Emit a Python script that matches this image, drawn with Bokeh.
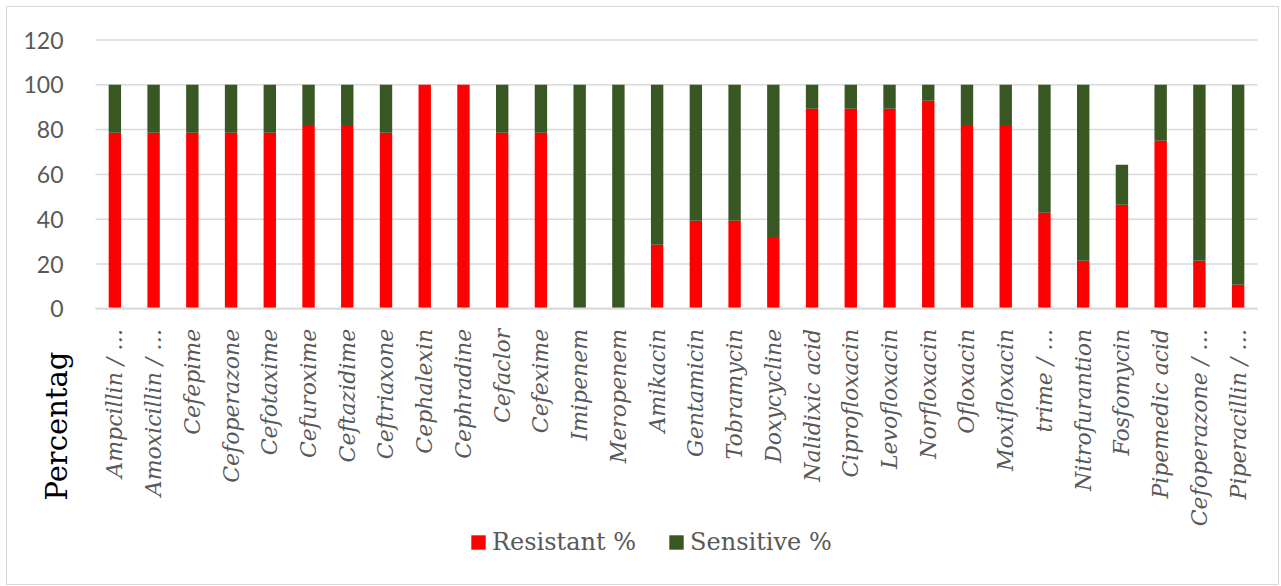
import math
from bokeh.plotting import figure
from bokeh.models import (ColumnDataSource, Legend, LegendItem, Label,
                          Range1d, FixedTicker)
from bokeh.embed import file_html
from bokeh.resources import INLINE

antibiotics = [
    "Ampcillin / …", "Amoxicillin / …", "Cefepime", "Cefoperazone", "Cefotaxime",
    "Cefuroxime", "Ceftazidime", "Ceftriaxone", "Cephalexin", "Cephradine",
    "Cefaclor", "Cefexime", "Imipenem", "Meropenem", "Amikacin",
    "Gentamicin", "Tobramycin", "Doxycycline", "Nalidixic acid", "Ciprofloxacin",
    "Levofloxacin", "Norfloxacin", "Ofloxacin", "Moxifloxacin", "trime / …",
    "Nitrofurantion", "Fosfomycin", "Pipemedic acid", "Cefoperazone / …", "Piperacillin / …",
]
resistant = [
    78.6, 78.6, 78.6, 78.6, 78.6,
    82.1, 82.1, 78.6, 100.0, 100.0,
    78.6, 78.6, 0.0, 0.0, 28.6,
    39.3, 39.3, 32.1, 89.3, 89.3,
    89.3, 92.9, 82.1, 82.1, 42.9,
    21.4, 46.4, 75.0, 21.4, 10.7,
]
sensitive = [
    21.4, 21.4, 21.4, 21.4, 21.4,
    17.9, 17.9, 21.4, 0.0, 0.0,
    21.4, 21.4, 100.0, 100.0, 71.4,
    60.7, 60.7, 67.9, 10.7, 10.7,
    10.7, 7.1, 17.9, 17.9, 57.1,
    78.6, 17.9, 25.0, 78.6, 89.3,
]
series_names = ["Resistant %", "Sensitive %"]
y_ticks = [0, 20, 40, 60, 80, 100, 120]
y_title = "Percentag"

RED = "#FF0000"
GREEN = "#385723"
GRAY_TEXT = "#595959"
GRID = "#d9d9d9"

# ---- layout in pixels (the frame fills the whole canvas) ----
CANVAS_W, CANVAS_H = 1271, 577
PX_PER_CAT = 38.733          # width of one category slot
X0_PX = 107.37               # canvas x of the first category centre
PX_PER_UNIT = 2.24           # pixels per percent
Y0_PX = 301.3                # canvas y (from top) of the 0 line

n = len(antibiotics)
positions = list(range(n))
x_range = Range1d(-X0_PX / PX_PER_CAT, (CANVAS_W - X0_PX) / PX_PER_CAT)
y_range = Range1d(-(CANVAS_H - Y0_PX) / PX_PER_UNIT, Y0_PX / PX_PER_UNIT)

src = ColumnDataSource(dict(pos=positions, drug=antibiotics,
                            resistant=resistant, sensitive=sensitive))

p = figure(
    x_range=x_range, y_range=y_range,
    width=CANVAS_W, height=CANVAS_H, output_backend="svg", toolbar_location=None,
    min_border=0, min_border_left=0, min_border_right=0,
    min_border_top=0, min_border_bottom=0,
    margin=(7, 0, 0, 7),
)
p.styles = {"box-shadow": "0 0 0 1px #d9d9d9"}
p.outline_line_color = None
p.background_fill_color = "white"
p.border_fill_color = "white"
p.xgrid.visible = False
p.ygrid.visible = False

# horizontal gridlines spanning the category area only
grid_src = ColumnDataSource(dict(y=y_ticks,
                                 x0=[-0.5] * len(y_ticks),
                                 x1=[n - 0.5] * len(y_ticks)))
p.segment(x0="x0", x1="x1", y0="y", y1="y", source=grid_src,
          line_color=GRID, line_width=1.5)

rs = p.vbar_stack(["resistant", "sensitive"], x="pos", width=0.32,
                  color=[RED, GREEN], line_color=None, source=src)

# y axis at the left edge of the first category
p.yaxis.fixed_location = -0.5
p.yaxis.ticker = FixedTicker(ticks=y_ticks)
p.yaxis.axis_line_color = None
p.yaxis.major_tick_line_color = None
p.yaxis.minor_tick_line_color = None
p.yaxis.major_label_standoff = 26
p.yaxis.major_label_text_font = "Lato"
p.yaxis.major_label_text_font_size = "23px"
p.yaxis.major_label_text_color = GRAY_TEXT

# category axis along y = 0
p.xaxis.fixed_location = 0
p.xaxis.bounds = (-0.5, n - 0.5)
p.xaxis.ticker = FixedTicker(ticks=positions)
p.xaxis.major_label_overrides = {i: name for i, name in zip(positions, antibiotics)}
p.xaxis.axis_line_color = GRID
p.xaxis.axis_line_width = 2
p.xaxis.major_tick_line_color = None
p.xaxis.minor_tick_line_color = None
p.xaxis.major_label_orientation = math.pi / 2
p.xaxis.major_label_standoff = 14
p.xaxis.major_label_text_font = "DejaVu Serif"
p.xaxis.major_label_text_font_style = "italic"
p.xaxis.major_label_text_font_size = "22px"
p.xaxis.major_label_text_color = GRAY_TEXT

# vertical axis title, low at the left
title = Label(x=49, y=84, x_units="screen", y_units="screen", text=y_title,
              angle=math.pi / 2, text_align="left", text_baseline="alphabetic",
              text_font="DejaVu Serif", text_font_size="29px", text_color="#000000")
p.add_layout(title)

legend = Legend(
    items=[LegendItem(label=series_names[0], renderers=[rs[0]]),
           LegendItem(label=series_names[1], renderers=[rs[1]])],
    orientation="horizontal", location=(462, 28),
    padding=0, margin=0, spacing=31, label_standoff=5,
    glyph_width=18, glyph_height=18,
    label_text_font="DejaVu Serif", label_text_font_size="24px",
    label_text_color=GRAY_TEXT, border_line_color=None, background_fill_alpha=0,
)
p.add_layout(legend)

open("out.html", "w").write(file_html(p, INLINE))
